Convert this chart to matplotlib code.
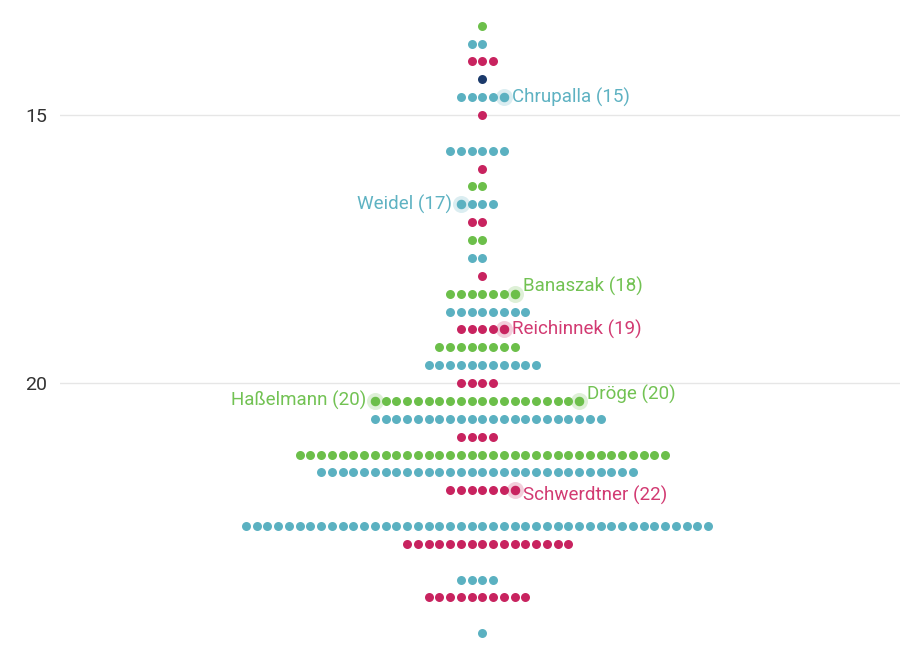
import matplotlib.pyplot as plt

plt.rcParams['font.family'] = ['Roboto', 'DejaVu Sans']

# values per party (integer value) and how many dots sit on each row
green_values = [13, 16, 17, 18, 19, 20, 21]
green_counts = [1, 2, 2, 7, 8, 20, 35]

teal_values = [14, 15, 16, 17, 18, 19, 20, 21, 22, 23, 24, 25]
teal_counts = [2, 5, 6, 4, 2, 8, 11, 22, 30, 44, 4, 1]

magenta_values = [14, 15, 16, 17, 18, 19, 20, 21, 22, 23, 24]
magenta_counts = [3, 1, 1, 2, 1, 5, 4, 4, 7, 16, 10]

navy_values = [14]
navy_counts = [1]

# labelled people: name, party, value, which end of the row
label_names = ['Chrupalla', 'Weidel', 'Banaszak', 'Reichinnek', 'Haßelmann', 'Dröge', 'Schwerdtner']
label_party = ['teal', 'teal', 'green', 'magenta', 'green', 'green', 'magenta']
label_values = [15, 17, 18, 19, 20, 20, 22]
label_side = ['right', 'left', 'right', 'right', 'left', 'right', 'right']

colors = {'green': '#6cbf4a', 'teal': '#5bb1c1', 'magenta': '#c8235f', 'navy': '#1b3a6b'}
text_colors = {'green': '#72c253', 'teal': '#5eb2c2', 'magenta': '#d23a72'}
row_shift = {'green': 1 / 3, 'teal': -1 / 3, 'magenta': 0.0, 'navy': 1 / 3}

parties = {
    'green': (green_values, green_counts),
    'teal': (teal_values, teal_counts),
    'magenta': (magenta_values, magenta_counts),
    'navy': (navy_values, navy_counts),
}

# even rows normally lean left of centre, these lean right
lean_right = {('teal', 19), ('teal', 21), ('magenta', 23)}


def first_x(party, v, n):
    start = -(n // 2)
    if n % 2 == 0 and (party, v) in lean_right:
        start += 1
    return start


fig = plt.figure(figsize=(9, 6.5), dpi=100)
ax = fig.add_axes([60 / 900, 0, 840 / 900, 1])

for party, (vals, counts) in parties.items():
    xs, ys = [], []
    for v, n in zip(vals, counts):
        x0 = first_x(party, v, n)
        for i in range(n):
            xs.append(x0 + i)
            ys.append(v + row_shift[party])
    ax.scatter(xs, ys, s=42, color=colors[party], linewidths=0, zorder=3)

# highlighted dots + labels
nudge = {'Banaszak': 5, 'Dröge': 5, 'Schwerdtner': -4}
for name, party, v, side in zip(label_names, label_party, label_values, label_side):
    n = dict(zip(*parties[party]))[v]
    x0 = first_x(party, v, n)
    x = x0 + n - 1 if side == 'right' else x0
    y = v + row_shift[party]
    ax.scatter([x], [y], s=150, color=colors[party], alpha=0.22, linewidths=0, zorder=2)
    ax.scatter([x], [y], s=48, color=colors[party], alpha=0.75, linewidths=0, zorder=4)
    dx = 6 if side == 'right' else -6
    ax.annotate(f'{name} ({v})', (x, y), xytext=(dx, nudge.get(name, 0)),
                textcoords='offset points', ha='left' if side == 'right' else 'right',
                va='center', fontsize=13.5, color=text_colors[party], zorder=5)

ax.set_xlim(-39.28, 38.86)
ax.set_ylim(24.98, 12.855)
ax.set_yticks([15, 20])
ax.set_xticks([])
ax.grid(axis='y', color='#e6e6e6', linewidth=1)
ax.set_axisbelow(True)
ax.tick_params(axis='y', length=0, pad=9.5, labelsize=14, labelcolor='#333333')
for s in ax.spines.values():
    s.set_visible(False)

fig.savefig('out.png', dpi=100)
